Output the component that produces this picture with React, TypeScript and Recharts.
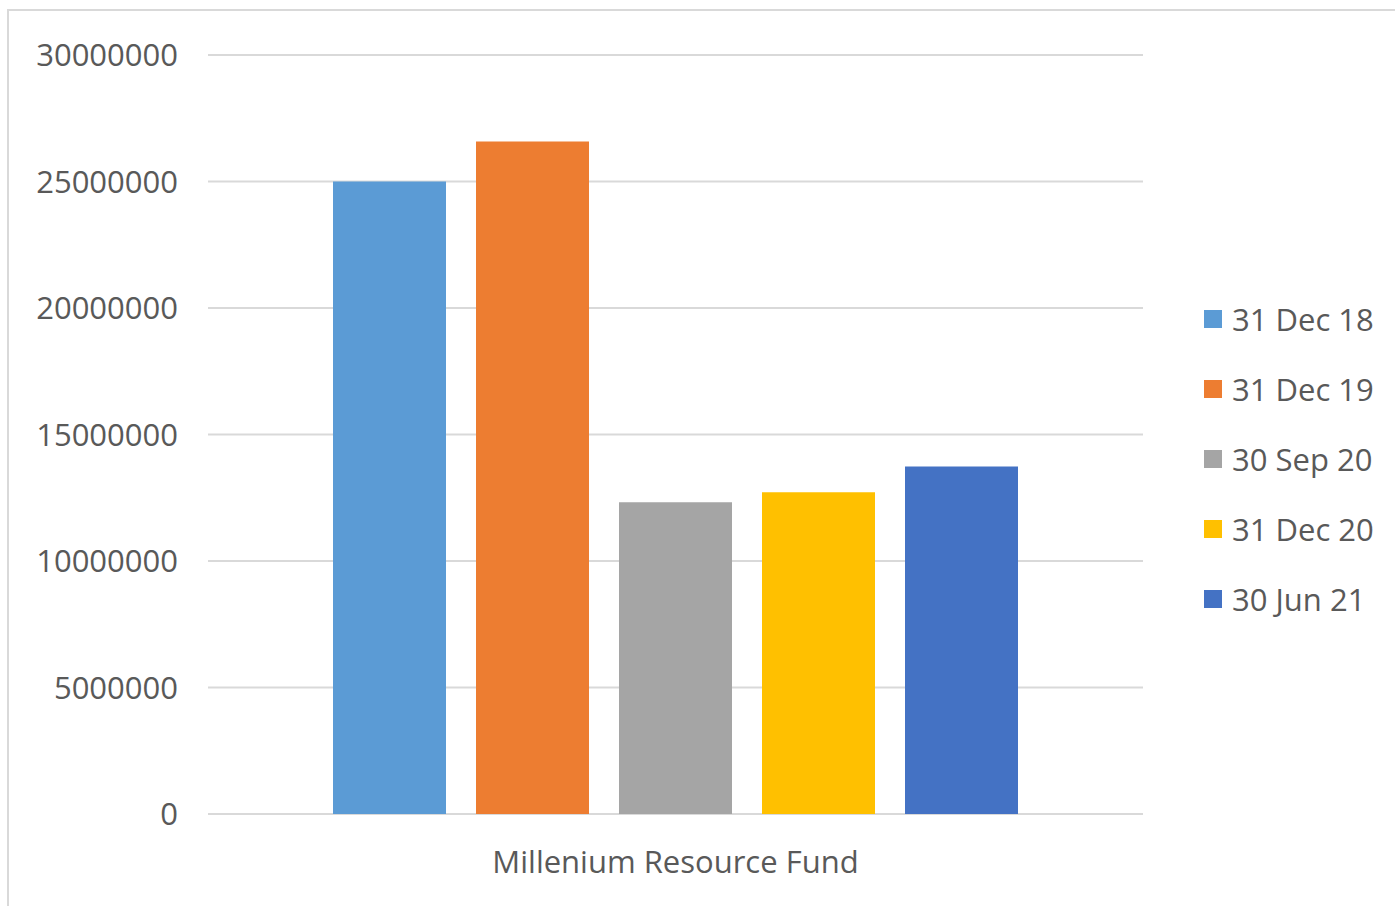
import { BarChart, Bar, XAxis, YAxis, CartesianGrid } from "recharts";

const CATEGORIES = ["Millenium Resource Fund"];
const SERIES = ["31 Dec 18", "31 Dec 19", "30 Sep 20", "31 Dec 20", "30 Jun 21"];
const VALUES = [25000000, 26580000, 12320000, 12720000, 13740000];
const Y_TICKS = [0, 5000000, 10000000, 15000000, 20000000, 25000000, 30000000];
const COLORS = ["#5b9bd5", "#ed7d31", "#a5a5a5", "#ffc000", "#4472c4"];

const FONT = "'Open Sans', sans-serif";
const TEXT = "#595959";

const data = CATEGORIES.map((name) => {
  const row: Record<string, string | number> = { name };
  SERIES.forEach((s, i) => (row[s] = VALUES[i]));
  return row;
});

function LegendList() {
  return (
    <div style={{ position: "absolute", left: 1204, top: 284 }}>
      {SERIES.map((s, i) => (
        <div key={s} style={{ display: "flex", alignItems: "center", height: 70 }}>
          <span style={{ width: 18, height: 18, background: COLORS[i], display: "inline-block", marginRight: 10 }} />
          <span style={{ fontFamily: FONT, fontSize: 31, color: TEXT }}>{s}</span>
        </div>
      ))}
    </div>
  );
}

export default function App() {
  return (
    <div style={{ position: "absolute", left: 0, top: 0, width: 1395, height: 906, background: "#fff", overflow: "hidden" }}>
      {/* chart frame, bottom/right edges fall outside the picture */}
      <div
        style={{
          position: "absolute",
          left: 7,
          top: 9,
          width: 2000,
          height: 2000,
          borderLeft: "2px solid #d9d9d9",
          borderTop: "2px solid #d9d9d9",
        }}
      />
      <div style={{ position: "absolute", left: 0, top: 0 }}>
        <BarChart
          width={1395}
          height={906}
          data={data}
          margin={{ top: 55, right: 252, bottom: 0, left: 0 }}
          barSize={113}
          barGap={30}
        >
          <CartesianGrid vertical={false} stroke="#d9d9d9" strokeWidth={2} />
          <XAxis
            dataKey="name"
            height={92}
            axisLine={false}
            tickLine={false}
            tickMargin={31}
            tick={{ fill: TEXT, fontSize: 31, fontFamily: FONT }}
          />
          <YAxis
            width={208}
            domain={[0, 30000000]}
            ticks={Y_TICKS}
            axisLine={false}
            tickLine={false}
            tickMargin={24}
            tick={{ fill: TEXT, fontSize: 31, fontFamily: FONT }}
          />
          {SERIES.map((s, i) => (
            <Bar key={s} dataKey={s} fill={COLORS[i]} isAnimationActive={false} />
          ))}
        </BarChart>
      </div>
      <LegendList />
    </div>
  );
}
